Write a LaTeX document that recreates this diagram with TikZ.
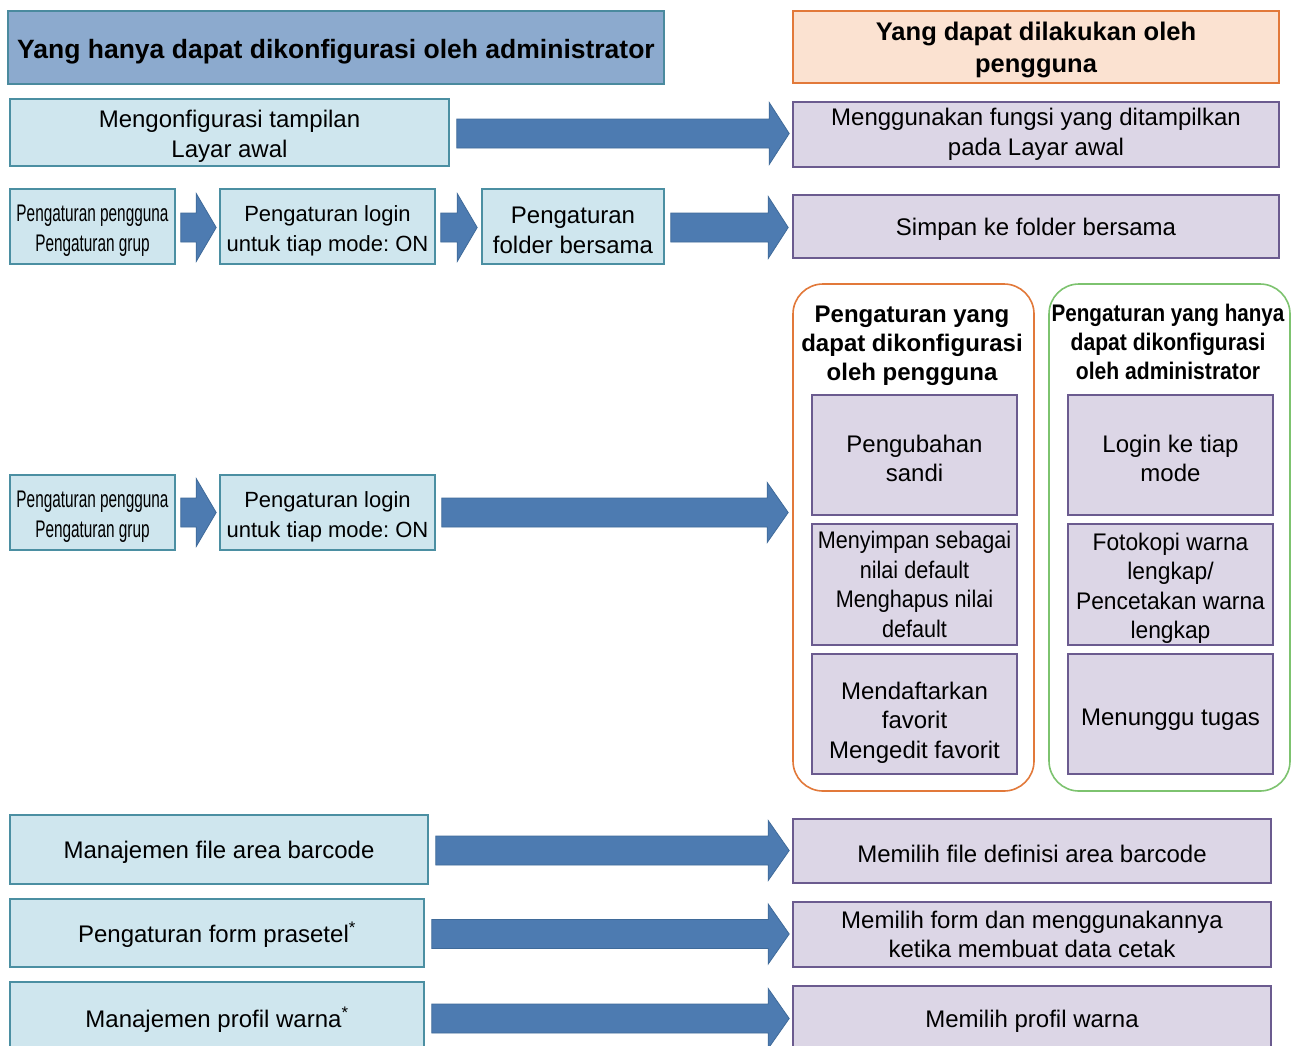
\documentclass[tikz,border=0pt]{standalone}
\usepackage{fontspec}
\setmainfont{Liberation Sans}
\usetikzlibrary{calc}
\definecolor{hlfill}{HTML}{8CAACE}
\definecolor{hldraw}{HTML}{4A8A9E}
\definecolor{lbfill}{HTML}{CFE6EE}
\definecolor{lbdraw}{HTML}{4B8FA2}
\definecolor{pfill}{HTML}{DCD6E6}
\definecolor{pdraw}{HTML}{6B5B8F}
\definecolor{ofill}{HTML}{FBE2D1}
\definecolor{odraw}{HTML}{E2793A}
\definecolor{gdraw}{HTML}{7DC36F}
\definecolor{arrfill}{HTML}{4D7BB1}
\definecolor{arrdraw}{HTML}{3F6A99}
\frenchspacing
\newcommand{\bfnt}{\fontsize{24}{29.5}\selectfont}
\newcommand{\lgfnt}{\fontsize{22}{29.5}\selectfont}
\newcommand{\hdfnt}{\fontsize{26.5}{32}\selectfont\bfseries}
\newcommand{\hdrfnt}{\fontsize{25.5}{32}\selectfont\bfseries}
\newcommand{\ttlfnt}{\fontsize{24}{29}\selectfont\bfseries}
\newcommand{\nrw}[1]{\scalebox{0.64}[1]{#1}}
\newcommand{\gn}[1]{\scalebox{0.88}[1]{#1}}
\newcommand{\fn}[1]{\scalebox{0.95}[1]{#1}}
\newcommand{\st}{\rule{0pt}{24.5pt}}
\newcommand{\flowarr}[5]{%
  \path[flowarrow] let \p1=#1, \p2=#2 in
   (\x1,{\y1+#3}) -- ({\x2-#5},{\y1+#3}) -- ({\x2-#5},{\y1+#4}) -- (\x2,\y1)
   -- ({\x2-#5},{\y1-#4}) -- ({\x2-#5},{\y1-#3}) -- (\x1,{\y1-#3}) -- cycle;}
\tikzset{
  lower/.style={execute at begin node={\rule{0pt}{#1}}},
  lbox/.style={draw=lbdraw, fill=lbfill, line width=1.6pt, align=center, inner sep=0pt, font=\bfnt, lower=23.5pt},
  pbox/.style={draw=pdraw, fill=pfill, line width=1.6pt, align=center, inner sep=0pt, font=\bfnt, lower=23.5pt},
  grp/.style={line width=1.6pt, rounded corners=30pt, inner sep=0pt},
  flowarrow/.style={fill=arrfill, draw=arrdraw, line width=0.8pt},
}
\begin{document}
\begin{tikzpicture}[x=1pt,y=-1pt]
\clip (0,0) rectangle (1298,1045);
\fill[white] (0,0) rectangle (1298,1045);

% headers
\node[draw=hldraw, fill=hlfill, line width=1.6pt, inner sep=0pt, minimum width=656pt, minimum height=73pt, font=\hdfnt, lower=27pt] (hl) at (336,47.5) {Yang hanya dapat dikonfigurasi oleh administrator};
\node[draw=odraw, fill=ofill, line width=1.6pt, inner sep=0pt, align=center, minimum width=486pt, minimum height=72pt, font=\hdrfnt] (hr) at (1036,47) {\rule{0pt}{24pt}Yang dapat dilakukan oleh\\pengguna};

% row 1
\node[lbox, minimum width=439pt, minimum height=67pt] (a1) at (229.5,132.5) {\st Mengonfigurasi tampilan\\Layar awal};
\node[pbox, minimum width=486pt, minimum height=65pt] (r1) at (1036,134.5) {Menggunakan fungsi yang ditampilkan\\pada Layar awal};

% row 2
\node[lbox, minimum width=165pt, minimum height=75pt] (a2) at (92.5,226.5) {\st\nrw{Pengaturan pengguna}\\\nrw{Pengaturan grup}};
\node[lbox, font=\lgfnt, minimum width=215pt, minimum height=75pt] (b2) at (327.5,226.5) {\st Pengaturan login\\untuk tiap mode: ON};
\node[lbox, minimum width=182pt, minimum height=75pt] (c2) at (573,226.5) {\st Pengaturan\\folder bersama};
\node[pbox, minimum width=486pt, minimum height=63pt] (r2) at (1036,226.5) {Simpan ke folder bersama};

% row 3
\node[lbox, minimum width=165pt, minimum height=75pt] (a3) at (92.5,512.5) {\st\nrw{Pengaturan pengguna}\\\nrw{Pengaturan grup}};
\node[lbox, font=\lgfnt, minimum width=215pt, minimum height=75pt] (b3) at (327.5,512.5) {\st Pengaturan login\\untuk tiap mode: ON};

% groups
\node[grp, draw=odraw, minimum width=241pt, minimum height=507pt] (og) at (913.5,537.5) {};
\node[grp, draw=gdraw, minimum width=241pt, minimum height=507pt] (gg) at (1169.5,537.5) {};
\node[align=center, font=\ttlfnt, inner sep=0pt] (ot) at (912,342) {\st Pengaturan yang\\dapat dikonfigurasi\\oleh pengguna};
\node[align=center, font=\ttlfnt, inner sep=0pt] (gt) at (1168,342) {\scalebox{0.86}[1]{Pengaturan yang hanya}\\\gn{dapat dikonfigurasi}\\\gn{oleh administrator}};

\node[pbox, minimum width=205pt, minimum height=120pt] (o1) at (914.5,455) {\st Pengubahan\\sandi};
\node[pbox, minimum width=205pt, minimum height=121pt] (o2) at (914.5,584.5) {\scalebox{0.9}[1]{Menyimpan sebagai}\\\scalebox{0.9}[1]{nilai default}\\\scalebox{0.9}[1]{Menghapus nilai}\\\scalebox{0.9}[1]{default}};
\node[pbox, minimum width=205pt, minimum height=120pt] (o3) at (914.5,714) {\rule{0pt}{34pt}Mendaftarkan\\favorit\\Mengedit favorit};
\node[pbox, minimum width=205pt, minimum height=120pt] (g1) at (1170.5,455) {\st Login ke tiap\\mode};
\node[pbox, minimum width=205pt, minimum height=121pt] (g2) at (1170.5,584.5) {\st\fn{Fotokopi warna}\\\fn{lengkap/}\\\fn{Pencetakan warna}\\\fn{lengkap}};
\node[pbox, minimum width=205pt, minimum height=120pt, lower=28pt] (g3) at (1170.5,714) {Menunggu tugas};

% bottom rows
\node[lbox, minimum width=418pt, minimum height=69pt] (d1) at (219,849.5) {Manajemen file area barcode};
\node[pbox, minimum width=478pt, minimum height=64pt] (s1) at (1032,851) {Memilih file definisi area barcode};
\node[lbox, minimum width=414pt, minimum height=68pt] (d2) at (217,933) {Pengaturan form prasetel\textsuperscript{*}};
\node[pbox, minimum width=478pt, minimum height=65pt] (s2) at (1032,934.5) {Memilih form dan menggunakannya\\ketika membuat data cetak};
\node[lbox, minimum width=414pt, minimum height=73pt] (d3) at (217,1018.5) {Manajemen profil warna\textsuperscript{*}};
\node[pbox, minimum width=478pt, minimum height=65pt] (s3) at (1032,1018.5) {Memilih profil warna};

% arrows
\flowarr{($(a1.east)+(7,1)$)}{($(r1.west)+(-3,0)$)}{14.5pt}{31pt}{20pt}
\flowarr{($(a2.east)+(5,1)$)}{($(b2.west)+(-3,0)$)}{14.5pt}{34pt}{20pt}
\flowarr{($(b2.east)+(5,1)$)}{($(c2.west)+(-4,0)$)}{14.5pt}{34pt}{20pt}
\flowarr{($(c2.east)+(6,1)$)}{($(r2.west)+(-4,0)$)}{14.5pt}{31pt}{20pt}
\flowarr{($(a3.east)+(5,0)$)}{($(b3.west)+(-3,0)$)}{14.5pt}{34pt}{20pt}
\flowarr{($(b3.east)+(6,0)$)}{($(og.west)+(-4,0)$)}{14.5pt}{30pt}{21pt}
\flowarr{($(d1.east)+(7,1)$)}{($(s1.west)+(-3,0)$)}{14.5pt}{30pt}{21pt}
\flowarr{($(d2.east)+(7,1)$)}{($(s2.west)+(-3,0)$)}{14.5pt}{30pt}{21pt}
\flowarr{($(d3.east)+(7,0)$)}{($(s3.west)+(-3,0)$)}{14.5pt}{30pt}{21pt}
\end{tikzpicture}
\end{document}
